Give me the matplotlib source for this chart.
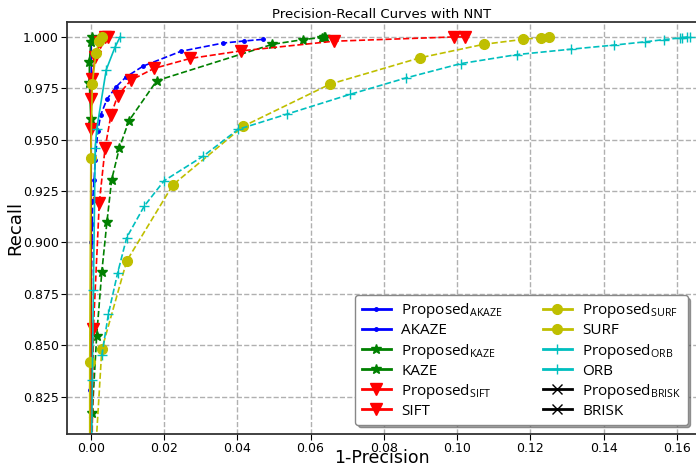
import numpy as np
import matplotlib
matplotlib.use('Agg')
import matplotlib.pyplot as plt
from matplotlib.lines import Line2D

plt.rcParams['mathtext.fontset'] = 'custom'
plt.rcParams['mathtext.rm'] = 'Open Sans'
plt.rcParams['mathtext.it'] = 'Open Sans'

# 1-precision / recall
akaze_prop_x = [0.0, 0.0, 0.0001, 0.0001, 0.0003]
akaze_prop_y = [0.80, 0.90, 0.96, 0.997, 1.0]
akaze_x = [-0.0003, 0.0004, 0.0005, 0.0009, 0.0012, 0.0019, 0.0027, 0.0044, 0.0069,
           0.0096, 0.0143, 0.0246, 0.0361, 0.0418, 0.047]
akaze_y = [0.828, 0.909, 0.920, 0.9306, 0.940, 0.954, 0.962, 0.9697, 0.9757,
           0.9805, 0.9858, 0.993, 0.997, 0.998, 0.9988]

kaze_prop_x = [0.0, 0.0, -0.0004, -0.0004, 0.0, 0.0003]
kaze_prop_y = [0.80, 0.96, 0.9775, 0.988, 0.9975, 1.0]
kaze_x = [0.0002, 0.0004, 0.0016, 0.003, 0.0044, 0.0057, 0.0078, 0.0104, 0.018,
          0.0496, 0.058, 0.063, 0.0637, 0.064]
kaze_y = [0.795, 0.817, 0.8547, 0.8857, 0.910, 0.9306, 0.946, 0.9592, 0.9787,
          0.9964, 0.9987, 0.9997, 1.0, 1.0]

sift_prop_x = [0.0, 0.0, 0.0, 0.0003, 0.0012, 0.0025, 0.0039, 0.0048]
sift_prop_y = [0.80, 0.955, 0.970, 0.9795, 0.990, 0.9974, 1.0, 1.0]
sift_x = [0.0003, 0.0007, 0.0023, 0.0039, 0.0055, 0.0073, 0.0109, 0.0173, 0.0271,
          0.041, 0.0664, 0.0993, 0.1023]
sift_y = [0.795, 0.858, 0.919, 0.946, 0.962, 0.9713, 0.9789, 0.9847, 0.9895,
          0.9932, 0.9979, 1.0, 1.0]

surf_prop_x = [-0.0003, -0.0003, 0.0, 0.0004, 0.0014, 0.0023, 0.003]
surf_prop_y = [0.795, 0.842, 0.941, 0.977, 0.9923, 0.998, 1.0]
surf_x = [0.0012, 0.003, 0.0098, 0.0224, 0.0416, 0.0653, 0.0898, 0.1073, 0.118,
          0.123, 0.125]
surf_y = [0.795, 0.848, 0.891, 0.928, 0.9565, 0.977, 0.9898, 0.9964, 0.9988,
          0.9997, 1.0]

orb_prop_x = [0.0002, 0.0004, 0.0007, 0.0012, 0.0016, 0.0042, 0.0066, 0.008]
orb_prop_y = [0.795, 0.833, 0.877, 0.946, 0.955, 0.984, 0.995, 1.0]
orb_x = [0.003, 0.0048, 0.0073, 0.0098, 0.0146, 0.020, 0.0307, 0.0402, 0.0535,
         0.0707, 0.086, 0.101, 0.1164, 0.131, 0.1428, 0.1513, 0.1566, 0.1609,
         0.1613, 0.1627, 0.1636]
orb_y = [0.845, 0.8652, 0.885, 0.9024, 0.9177, 0.930, 0.942, 0.955, 0.9624,
         0.972, 0.980, 0.987, 0.9914, 0.994, 0.996, 0.9976, 0.9987, 0.9995,
         0.9997, 0.9999, 1.0]

# BRISK curves do not show inside the plotted range
brisk_prop_x, brisk_prop_y = [], []
brisk_x, brisk_y = [], []

names = ['AKAZE', 'KAZE', 'SIFT', 'SURF', 'ORB', 'BRISK']
colors = ['b', 'g', 'r', 'y', 'c', 'k']
markers = ['.', '*', 'v', 'o', '+', 'x']
msizes = [5, 7, 8, 7, 7, 7]
series = [
    (akaze_prop_x, akaze_prop_y, akaze_x, akaze_y),
    (kaze_prop_x, kaze_prop_y, kaze_x, kaze_y),
    (sift_prop_x, sift_prop_y, sift_x, sift_y),
    (surf_prop_x, surf_prop_y, surf_x, surf_y),
    (orb_prop_x, orb_prop_y, orb_x, orb_y),
    (brisk_prop_x, brisk_prop_y, brisk_x, brisk_y),
]

fig = plt.figure(figsize=(6.96, 4.66), dpi=100)
ax = fig.add_axes([0.0963, 0.0687, 0.905, 0.8843])

handles = []
for name, c, m, ms, (px, py, bx, by) in zip(names, colors, markers, msizes, series):
    ax.plot(bx, by, color=c, marker=m, ms=ms, ls='--', lw=1.2)
    ax.plot(px, py, color=c, marker=m, ms=ms, ls='-', lw=1.2)
    handles.append(Line2D([], [], color=c, marker=m, ms=ms, lw=2,
                          label=r'Proposed$_{\mathrm{%s}}$' % name))
    handles.append(Line2D([], [], color=c, marker=m, ms=ms, lw=2, label=name))

ax.set_xlim(-0.0065, 0.1655)
ax.set_ylim(0.8068, 1.0073)
ax.set_xticks(np.arange(0, 0.161, 0.02))
ax.set_yticks(np.arange(0.825, 1.0001, 0.025))
ax.xaxis.set_major_formatter(plt.FormatStrFormatter('%.2f'))
ax.yaxis.set_major_formatter(plt.FormatStrFormatter('%.3f'))
ax.tick_params(axis='x', labelsize=9)
ax.tick_params(axis='y', labelsize=9)
ax.tick_params(length=4, pad=2)
ax.grid(True, ls='--', color='#b0b0b0', lw=1)
for s in ax.spines.values():
    s.set_color('#333333')
    s.set_linewidth(1.3)

ax.set_title('Precision-Recall Curves with NNT', fontsize=9.5, pad=3)
ax.set_xlabel('1-Precision', fontsize=12.5, labelpad=-4.5)
ax.set_ylabel('Recall', fontsize=13, labelpad=-1)

leg = ax.legend(handles=handles, ncol=2, loc='lower right', shadow=True,
                fancybox=True, framealpha=1, labelspacing=0.2,
                handlelength=1.9, handletextpad=0.7, columnspacing=2.6,
                borderaxespad=0.6, prop={'family': 'Open Sans', 'size': 11})
leg.get_frame().set_edgecolor('#888888')

plt.savefig('out.png', dpi=100)
